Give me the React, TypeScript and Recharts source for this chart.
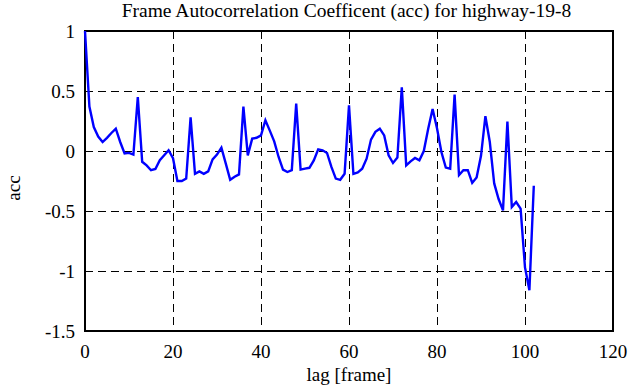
import React from "react"
import {
    LineChart,
    Line,
    XAxis,
    YAxis,
    CartesianGrid,
    ReferenceArea,
} from "recharts"

// autocorrelation per lag (lag 0..102)
const LAGS: number[] = Array.from({ length: 103 }, (_, i) => i)
const ACC: number[] = [
    1.0, 0.37, 0.2, 0.12, 0.075, 0.11, 0.15, 0.186, 0.075, -0.02,
    -0.016, -0.03, 0.45, -0.09, -0.12, -0.16, -0.15, -0.077, -0.036, 0.006,
    -0.06, -0.25, -0.25, -0.23, 0.28, -0.19, -0.17, -0.19, -0.17, -0.07,
    -0.03, 0.028, -0.105, -0.24, -0.215, -0.195, 0.37, -0.036, 0.103, 0.11,
    0.13, 0.256, 0.17, 0.08, -0.05, -0.155, -0.175, -0.16, 0.395, -0.155,
    -0.147, -0.14, -0.078, 0.014, 0.006, -0.016, -0.133, -0.23, -0.24, -0.19,
    0.38, -0.19, -0.178, -0.147, -0.064, 0.095, 0.16, 0.186, 0.13, -0.036,
    -0.1, -0.055, 0.53, -0.12, -0.086, -0.058, -0.078, 0.0, 0.186, 0.35,
    0.19, -0.008, -0.138, -0.147, 0.47, -0.2, -0.16, -0.16, -0.266, -0.22,
    -0.04, 0.29, 0.075, -0.27, -0.4, -0.495, 0.245, -0.466, -0.425, -0.48,
    -0.97, -1.16, -0.29,
]
const X_TICKS = [0, 20, 40, 60, 80, 100, 120]
const Y_TICKS = [-1.5, -1, -0.5, 0, 0.5, 1]

const TITLE = "Frame Autocorrelation Coefficent (acc) for highway-19-8"
const X_LABEL = "lag [frame]"
const Y_LABEL = "acc"

const data = LAGS.map((lag, i) => ({ lag, acc: ACC[i] }))

const FONT = "Liberation Serif, Times New Roman, serif"

const SerifTick = ({ x, y, payload, anchor, dy }: any) => (
    <text
        x={x}
        y={y}
        dy={dy}
        textAnchor={anchor}
        fill="#000"
        fontSize={19}
        fontFamily="Liberation Serif"
    >
        {String(payload.value)}
    </text>
)

export default function App() {
    return (
        <div
            style={{
                position: "absolute",
                left: 0,
                top: 0,
                width: 635,
                height: 387,
                background: "#fff",
                fontFamily: FONT,
                color: "#000",
            }}
        >
            <style>{`
                svg text { font-family: "Liberation Serif", serif !important; }
                .recharts-cartesian-grid line { shape-rendering: crispEdges; }
                .frame path, .frame rect { shape-rendering: crispEdges; }
            `}</style>
            <div
                style={{
                    position: "absolute",
                    left: 0,
                    width: 693,
                    top: 0,
                    textAlign: "center",
                    fontSize: 19.5,
                    lineHeight: "22.5px",
                    whiteSpace: "nowrap",
                }}
            >
                {TITLE}
            </div>
            <div
                style={{
                    position: "absolute",
                    left: 0,
                    width: 698,
                    top: 363,
                    textAlign: "center",
                    fontSize: 19,
                    lineHeight: "24px",
                }}
            >
                {X_LABEL}
            </div>
            <div
                style={{
                    position: "absolute",
                    left: 14,
                    top: 188,
                    fontSize: 19,
                    lineHeight: "20px",
                    transform: "translate(-50%, -50%) rotate(-90deg)",
                }}
            >
                {Y_LABEL}
            </div>

            <LineChart
                width={635}
                height={387}
                data={data}
                margin={{ top: 31, right: 22, left: 0, bottom: 0 }}
            >
                <CartesianGrid
                    stroke="#000"
                    strokeWidth={1}
                    strokeDasharray="8 5"
                />
                <XAxis
                    dataKey="lag"
                    type="number"
                    domain={[0, 120]}
                    ticks={X_TICKS}
                    height={56}
                    axisLine={false}
                    tickLine={false}
                    tickSize={0}
                    tickMargin={14}
                    tick={(p: any) => <SerifTick {...p} anchor="middle" dy="0.71em" />}
                />
                <YAxis
                    type="number"
                    domain={[-1.5, 1]}
                    ticks={Y_TICKS}
                    width={85}
                    axisLine={false}
                    tickLine={false}
                    tickSize={0}
                    tickMargin={10}
                    tick={(p: any) => <SerifTick {...p} anchor="end" dy="0.355em" />}
                />
                <ReferenceArea
                    className="frame"
                    x1={0}
                    x2={120}
                    y1={-1.5}
                    y2={1}
                    fill="none"
                    fillOpacity={0}
                    stroke="#000"
                    strokeOpacity={1}
                    strokeWidth={2}
                />
                <Line
                    type="linear"
                    dataKey="acc"
                    stroke="#0000ff"
                    strokeWidth={2.4}
                    dot={false}
                    isAnimationActive={false}
                />
            </LineChart>
        </div>
    )
}
